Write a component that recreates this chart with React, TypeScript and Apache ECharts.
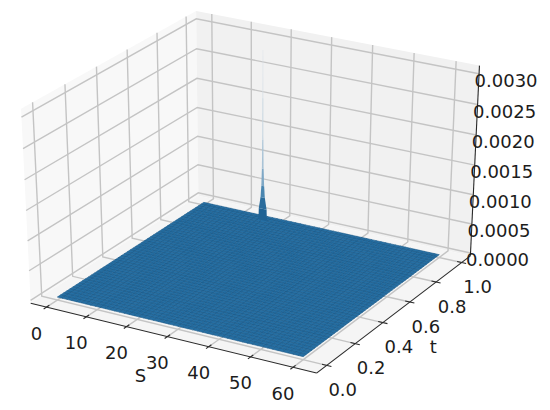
import React, { useEffect, useRef } from "react";
import * as echarts from "echarts";

// ---- data ----
const S_TICKS = [0, 10, 20, 30, 40, 50, 60];
const T_TICKS = [0, 0.2, 0.4, 0.6, 0.8, 1.0];
const Z_TICKS = [0, 0.0005, 0.001, 0.0015, 0.002, 0.0025, 0.003];
const S_GRID = [0,1.2,2.4,3.6,4.8,6,7.2,8.4,9.6,10.8,12,13.2,14.4,15.6,16.8,18,19.2,20.4,21.6,22.8,24,25.2,26.4,27.6,28.8,30,31.2,32.4,33.6,34.8,36,37.2,38.4,39.6,40.8,42,43.2,44.4,45.6,46.8,48,49.2,50.4,51.6,52.8,54,55.2,56.4,57.6,58.8,60];
const T_GRID = [0,0.02,0.04,0.06,0.08,0.1,0.12,0.14,0.16,0.18,0.2,0.22,0.24,0.26,0.28,0.3,0.32,0.34,0.36,0.38,0.4,0.42,0.44,0.46,0.48,0.5,0.52,0.54,0.56,0.58,0.6,0.62,0.64,0.66,0.68,0.7,0.72,0.74,0.76,0.78,0.8,0.82,0.84,0.86,0.88,0.9,0.92,0.94,0.96,0.98,1];
// non-zero surface samples: [S index, t index, value]; everything else reads as 0
const Z_SAMPLES: number[][] = [[14, 48, 0.00012]];
const SPIKE_S = 16.8;
const SPIKE_T = 0.96;
// spike outline: [value, half width in S units, colour]
const SPIKE: [number, number, string][] = [
  [0, 1.1, "#1f6294"],
  [0.0002, 1.0, "#1f6294"],
  [0.0004, 0.55, "#2a6c9c"],
  [0.0006, 0.36, "#4a86b0"],
  [0.0009, 0.22, "#7fa8c6"],
  [0.0014, 0.14, "#a9c3d6"],
  [0.0021, 0.1, "#c4d4e0"],
  [0.0029, 0.04, "#d6dfe6"],
];

// ---- view ----
const S_LIM = [-4, 65.5];
const T_LIM = [-0.07, 1.07];
const Z_LIM = [-0.00005, 0.00313];
const HALF_Z = 0.43;
const SX = 3285, OX = 254, SY = 2556, OY = 185;

function project(S: number, t: number, z: number): number[] {
  const x = (S - S_LIM[0]) / (S_LIM[1] - S_LIM[0]) - 0.5;
  const y = (t - T_LIM[0]) / (T_LIM[1] - T_LIM[0]) - 0.5;
  const h = ((z - Z_LIM[0]) / (Z_LIM[1] - Z_LIM[0]) - 0.5) * 2 * HALF_Z;
  const u = 0.866025 * x + 0.5 * y;
  const v = -0.2424 * x + 0.4199 * y + 0.8746 * h;
  const w = 0.4373 * x - 0.7574 * y + 0.4848 * h;
  const d = 10 - w;
  return [OX + (SX * u) / d, OY - (SY * v) / d];
}

const S0 = S_LIM[0], S1 = S_LIM[1], T0 = T_LIM[0], T1 = T_LIM[1], Z0 = Z_LIM[0], Z1 = Z_LIM[1];
const TICK_T = 0.018;
const TICK_S = 1.1;

type Shape = { kind: "poly" | "line"; pts: number[][]; fill?: string; stroke?: string; width?: number };

const shapes: Shape[] = [
  // panes
  { kind: "poly", pts: [[S0, T0, Z0], [S0, T1, Z0], [S0, T1, Z1], [S0, T0, Z1]], fill: "#f8f8f8" },
  { kind: "poly", pts: [[S0, T1, Z0], [S1, T1, Z0], [S1, T1, Z1], [S0, T1, Z1]], fill: "#f1f1f1" },
  { kind: "poly", pts: [[S0, T0, Z0], [S1, T0, Z0], [S1, T1, Z0], [S0, T1, Z0]], fill: "#f5f5f5" },
];
const GRID = "#c4c4c4";
S_TICKS.forEach((s) => {
  shapes.push({ kind: "line", pts: [[s, T0, Z0], [s, T1, Z0], [s, T1, Z1]], stroke: GRID, width: 1.4 });
});
T_TICKS.forEach((t) => {
  shapes.push({ kind: "line", pts: [[S1, t, Z0], [S0, t, Z0], [S0, t, Z1]], stroke: GRID, width: 1.4 });
});
Z_TICKS.forEach((z) => {
  shapes.push({ kind: "line", pts: [[S0, T0, z], [S0, T1, z], [S1, T1, z]], stroke: GRID, width: 1.4 });
});
const INK = "#2a2a2a";
const axes: Shape[] = [
  { kind: "line", pts: [[S0, T0, Z0], [S1, T0, Z0]], stroke: INK, width: 1.1 },
  { kind: "line", pts: [[S1, T0, Z0], [S1, T1, Z0]], stroke: INK, width: 1.1 },
  { kind: "line", pts: [[S1, T1, Z0], [S1, T1, Z1]], stroke: INK, width: 1.1 },
];
S_TICKS.forEach((s) => axes.push({ kind: "line", pts: [[s, T0 - TICK_T, Z0], [s, T0 + TICK_T, Z0]], stroke: INK, width: 1.1 }));
T_TICKS.forEach((t) => axes.push({ kind: "line", pts: [[S1 + TICK_S, t, Z0], [S1 - TICK_S, t, Z0]], stroke: INK, width: 1.1 }));

const zAt = (i: number, j: number) => {
  const hit = Z_SAMPLES.find((p) => p[0] === i && p[1] === j);
  return hit ? hit[2] : 0;
};
const cells: number[][] = [];
for (let j = T_GRID.length - 2; j >= 0; j--) {
  for (let i = 0; i < S_GRID.length - 1; i++) cells.push([i, j]);
}

type Lab = { text: string; at: number[]; dx: number; dy: number };
const labels: Lab[] = [
  ...S_TICKS.map((s) => ({ text: String(s), at: [s, T0, Z0], dx: -10, dy: 26 })),
  ...T_TICKS.map((t) => ({ text: t.toFixed(1), at: [S1, t, Z0], dx: 16, dy: 24 })),
  ...Z_TICKS.map((z) => ({ text: z.toFixed(4), at: [S1, T1, z], dx: 27, dy: 6.5 })),
  { text: "S", at: [30, T0, Z0], dx: -27, dy: 39 },
  { text: "t", at: [S1, 0.5, Z0], dx: 37, dy: 34 },
];

export default function App() {
  const ref = useRef<HTMLDivElement>(null);
  useEffect(() => {
    const chart = echarts.init(ref.current!, undefined, { renderer: "svg" });
    const drawShape = (list: Shape[]) => (params: any, api: any) => {
      const s = list[params.dataIndex];
      const points = s.pts.map((p) => api.coord(project(p[0], p[1], p[2])));
      return s.kind === "poly"
        ? { type: "polygon", silent: true, shape: { points }, style: { fill: s.fill, stroke: null } }
        : { type: "polyline", silent: true, shape: { points }, style: { fill: null, stroke: s.stroke, lineWidth: s.width } };
    };
    const base = { type: "custom", silent: true, clip: false, progressive: 0, animation: false };
    chart.setOption({
      animation: false,
      backgroundColor: "#ffffff",
      grid: { left: 0, right: 0, top: 0, bottom: 0 },
      xAxis: { type: "value", min: 0, max: 550, show: false },
      yAxis: { type: "value", min: 0, max: 410, inverse: true, show: false },
      series: [
        { ...base, z: 1, data: shapes.map((_, k) => [k, 0]), renderItem: drawShape(shapes) },
        {
          ...base,
          z: 2,
          data: cells,
          renderItem: (_: any, api: any) => {
            const i = api.value(0), j = api.value(1);
            const corners = [[i, j], [i + 1, j], [i + 1, j + 1], [i, j + 1]];
            const points = corners.map(([a, b]) => api.coord(project(S_GRID[a], T_GRID[b], zAt(a, b))));
            return { type: "polygon", silent: true, shape: { points }, style: { fill: "#266fa3", stroke: "#1b5a8a", lineWidth: 0.6 } };
          },
        },
        {
          ...base,
          z: 3,
          data: SPIKE.slice(1).map((_, k) => [k, 0]),
          renderItem: (params: any, api: any) => {
            const a = SPIKE[params.dataIndex], b = SPIKE[params.dataIndex + 1];
            const points = [
              [SPIKE_S - a[1], a[0]], [SPIKE_S + a[1], a[0]], [SPIKE_S + b[1], b[0]], [SPIKE_S - b[1], b[0]],
            ].map(([s, z]) => api.coord(project(s, SPIKE_T, z)));
            return { type: "polygon", silent: true, shape: { points }, style: { fill: b[2], stroke: null } };
          },
        },
        { ...base, z: 4, data: axes.map((_, k) => [k, 0]), renderItem: drawShape(axes) },
        {
          ...base,
          z: 5,
          data: labels.map((_, k) => [k, 0]),
          renderItem: (params: any, api: any) => {
            const l = labels[params.dataIndex];
            const c = api.coord(project(l.at[0], l.at[1], l.at[2]));
            return {
              type: "text",
              silent: true,
              x: c[0] + l.dx,
              y: c[1] + l.dy,
              style: { text: l.text, fill: "#1c1c1c", font: '18px "DejaVu Sans"', align: "center", verticalAlign: "middle" },
            };
          },
        },
      ],
    });
    return () => chart.dispose();
  }, []);
  return <div ref={ref} style={{ position: "absolute", left: 0, top: 0, width: 550, height: 410 }} />;
}
